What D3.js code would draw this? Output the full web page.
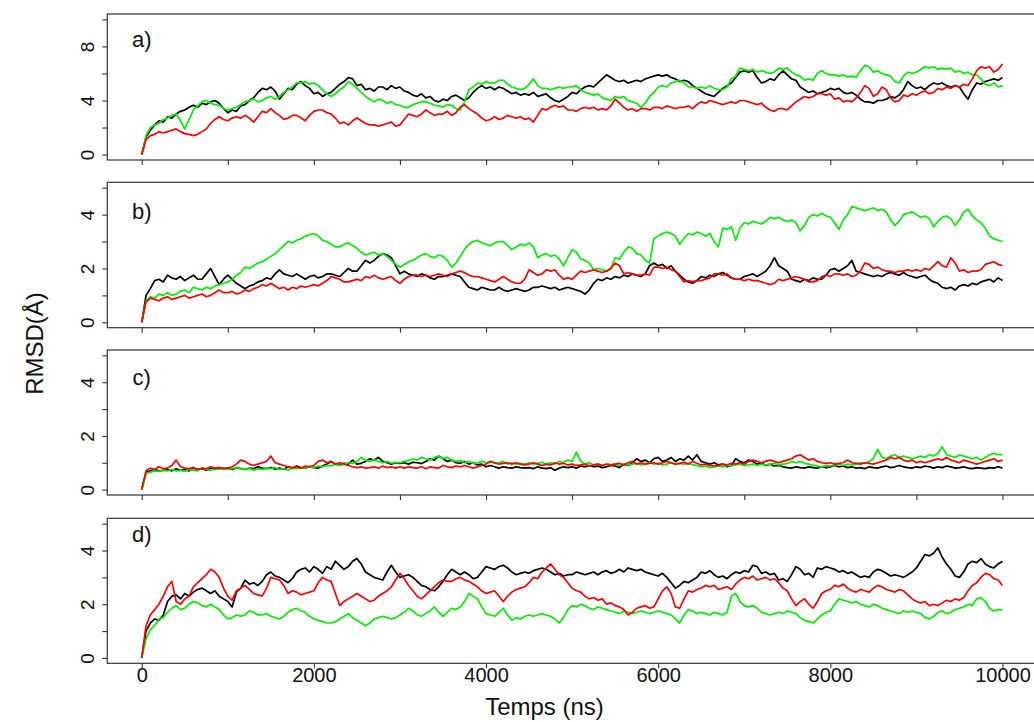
<!DOCTYPE html>
<html>
<head>
<meta charset="utf-8">
<script src="https://cdn.jsdelivr.net/npm/d3@7"></script>
<style>
  html, body { margin: 0; padding: 0; background: #fff; }
  svg { display: block; }
  text { font-family: "Liberation Sans", Arial, Helvetica, sans-serif; fill: #111; }
</style>
</head>
<body>
<svg id="chart" width="1034" height="722"></svg>
<script>
// ---------------- DATA (RMSD in Å, sampled every 50 ns from 0 to 10000 ns) ----------------
const timeStep = 50;
const panelNames = ["a)", "b)", "c)", "d)"];
const seriesNames = ["black", "green", "red"];
const xTicksTop = [0,1000,2000,3000,4000,5000,6000,7000,8000,9000,10000];
const xTicksBottom = [0,2000,4000,6000,8000,10000];
const yTicksA = [0,2,4,6,8,10];
const yLabelsA = [0,4,8];
const yTicksBCD = [0,1,2,3,4,5];
const yLabelsBCD = [0,2,4];

const aBlack = [
0,1.3,1.8,2.2,2.5,2.4,2.8,2.7,3.0,3.2,
3.3,3.5,3.65,3.5,3.8,3.7,3.9,4.0,3.8,3.4,
3.1,3.3,3.2,3.6,3.7,4.0,4.2,4.6,4.9,4.8,
5.0,4.7,4.1,4.5,4.9,4.8,5.2,5.4,5.1,4.9,
4.5,4.6,4.3,4.5,4.6,4.9,5.2,5.4,5.7,5.6,
5.1,5.2,4.8,4.9,4.7,5.0,5.0,4.8,5.1,4.9,
5.0,4.7,4.6,4.4,4.3,4.5,4.2,4.3,4.0,3.9,
4.1,4.0,4.3,4.4,4.2,4.0,4.2,4.6,4.9,5.1,
4.9,5.0,4.8,5.0,4.9,4.7,4.5,4.6,4.4,4.5,
4.4,4.6,4.3,4.4,4.5,4.2,4.0,3.9,4.1,4.3,
4.6,4.5,4.8,5.0,5.1,5.0,5.3,5.6,5.9,5.7,
5.5,5.4,5.5,5.3,5.4,5.5,5.4,5.6,5.7,5.8,
5.9,5.8,5.9,5.7,5.6,5.4,5.5,5.4,5.1,4.9,
4.7,4.5,4.4,4.3,4.6,4.9,5.1,5.3,5.7,6.1,
6.2,6.1,6.2,5.7,5.3,5.4,5.6,5.5,5.9,6.2,
5.9,5.6,5.5,5.0,4.8,4.6,4.7,4.5,4.6,4.7,
4.9,4.8,4.9,4.6,4.5,4.6,4.4,4.1,3.9,3.9,
3.8,4.0,4.0,4.1,4.3,4.2,4.4,4.8,5.4,5.1,
4.9,5.0,4.8,5.1,5.3,5.2,5.3,5.1,5.0,5.1,
5.0,4.5,4.1,4.8,5.3,5.2,5.4,5.5,5.6,5.5,
5.7];
const aGreen = [
0,1.4,2.0,2.2,2.3,2.6,2.7,2.9,3.0,2.5,
1.9,2.6,3.3,3.6,3.9,4.0,3.8,3.7,3.65,3.4,
3.3,3.4,3.5,3.7,3.9,4.0,4.1,3.9,4.0,4.2,
4.3,4.1,4.3,4.6,4.8,5.0,5.3,5.3,5.4,5.2,
5.3,5.1,4.8,4.5,4.3,4.5,4.8,5.0,5.4,5.2,
4.9,4.6,4.3,4.1,3.9,4.1,4.0,3.8,3.9,3.7,
3.65,3.5,3.5,3.7,3.8,3.9,3.9,3.8,3.65,3.6,
3.5,3.7,3.65,3.4,3.3,3.9,4.8,5.0,5.3,5.2,
5.4,5.3,5.3,5.5,5.5,5.2,5.0,4.9,4.8,4.9,
5.2,5.6,5.1,4.9,4.9,4.8,4.9,5.0,4.9,5.0,
5.0,5.1,4.8,4.6,4.5,4.4,4.5,4.2,4.1,4.0,
4.3,4.2,4.3,4.0,3.9,3.8,3.5,3.8,4.3,4.6,
5.0,5.1,5.0,5.3,5.4,5.5,5.3,5.0,5.0,4.9,
5.0,4.9,5.1,4.9,4.8,4.8,5.0,5.6,5.8,6.4,
6.3,6.2,6.3,6.1,6.2,6.1,6.0,6.1,6.4,6.3,
6.4,6.1,5.9,5.8,5.5,5.6,5.5,6.0,6.2,6.0,
5.9,5.9,5.8,5.9,5.75,5.8,5.7,6.2,6.6,6.5,
6.1,6.2,6.0,5.9,5.8,5.4,5.3,5.8,6.1,6.0,
6.1,6.3,6.5,6.4,6.5,6.3,6.4,6.3,6.4,6.1,
6.2,6.0,6.1,5.9,5.9,5.6,5.2,5.1,5.3,5.0,
5.1];
const aRed = [
0,1.1,1.4,1.5,1.7,1.6,1.7,1.8,1.9,1.7,
1.55,1.5,1.4,1.5,1.7,1.9,2.3,2.6,2.8,2.6,
2.5,2.7,2.8,2.7,2.9,2.7,2.4,2.8,3.2,3.1,
3.4,3.1,2.9,2.6,2.7,2.9,2.9,2.7,2.5,2.9,
3.2,3.3,3.3,3.1,3.0,2.7,2.3,2.4,2.2,2.5,
2.7,2.5,2.3,2.2,2.2,2.1,2.2,2.3,2.4,2.1,
2.2,2.6,3.0,2.9,2.8,3.0,3.3,3.1,2.9,3.0,
3.0,3.2,2.9,3.1,3.5,3.7,3.4,3.2,3.0,2.7,
2.5,2.6,2.8,2.6,2.7,2.9,2.8,2.7,2.8,2.6,
2.7,2.4,2.9,3.4,3.3,3.5,3.65,3.5,3.6,3.3,
3.3,3.2,3.4,3.5,3.4,3.5,3.3,3.4,3.3,3.6,
4.1,3.8,3.5,3.3,3.4,3.2,3.4,3.4,3.3,3.5,
3.5,3.4,3.6,3.5,3.4,3.5,3.5,3.6,3.4,3.7,
3.9,3.8,4.0,3.9,3.8,3.7,3.8,3.9,3.8,4.0,
4.0,3.9,3.8,3.7,3.8,3.5,3.3,3.2,3.4,3.4,
3.3,3.6,3.9,4.1,4.3,4.2,4.3,4.5,4.5,4.4,
4.5,4.1,4.2,3.9,4.0,3.9,4.2,4.6,5.1,4.9,
4.3,4.5,5.0,4.8,4.2,3.9,4.0,4.4,4.3,4.5,
4.4,4.6,4.7,4.5,4.6,4.9,4.8,5.0,4.9,5.1,
5.0,5.2,5.1,5.6,6.2,6.5,6.4,6.5,6.1,6.3,
6.7];

const bBlack = [
0,1.0,1.25,1.55,1.6,1.5,1.75,1.65,1.6,1.7,
1.55,1.65,1.75,1.6,1.6,1.8,2.0,1.7,1.4,1.6,
1.75,1.6,1.45,1.35,1.25,1.35,1.4,1.5,1.55,1.65,
1.6,1.8,1.95,1.8,1.75,1.7,1.8,1.7,1.6,1.7,
1.75,1.65,1.7,1.8,1.8,1.75,1.7,1.85,2.0,1.9,
1.9,2.1,2.3,2.2,2.3,2.45,2.55,2.5,2.4,2.1,
1.8,1.9,1.8,1.75,1.7,1.8,1.75,1.65,1.6,1.7,
1.7,1.75,1.8,1.75,1.7,1.5,1.3,1.25,1.2,1.3,
1.25,1.2,1.2,1.3,1.2,1.15,1.2,1.25,1.2,1.15,
1.2,1.3,1.3,1.35,1.3,1.25,1.3,1.2,1.25,1.3,
1.25,1.2,1.15,1.05,1.2,1.45,1.6,1.55,1.65,1.6,
1.7,1.65,1.75,1.7,1.8,1.75,1.7,1.8,2.1,2.2,
2.1,2.15,2.0,2.1,1.9,1.75,1.6,1.5,1.45,1.55,
1.7,1.65,1.75,1.7,1.8,1.85,1.75,1.65,1.6,1.6,
1.7,1.75,1.8,1.7,1.8,1.9,2.1,2.4,2.1,2.0,
1.9,1.6,1.55,1.5,1.6,1.55,1.65,1.6,1.6,1.75,
1.95,2.0,1.9,2.0,2.1,2.3,1.9,1.85,1.8,1.75,
1.7,1.75,1.7,1.8,1.85,1.8,1.75,1.85,1.75,1.7,
1.65,1.7,1.75,1.6,1.5,1.45,1.3,1.25,1.3,1.2,
1.35,1.4,1.35,1.45,1.4,1.5,1.55,1.6,1.5,1.65,
1.55];
const bGreen = [
0,0.8,0.95,0.9,1.05,1.0,1.1,1.0,1.05,1.15,
1.2,1.1,1.3,1.25,1.2,1.3,1.25,1.35,1.4,1.45,
1.5,1.6,1.75,1.85,2.05,2.0,2.1,2.2,2.25,2.35,
2.45,2.55,2.7,2.85,3.0,2.95,3.05,3.1,3.2,3.25,
3.3,3.2,3.05,3.0,2.9,2.8,2.8,2.9,2.95,2.85,
2.75,2.6,2.5,2.55,2.6,2.5,2.55,2.45,2.3,2.15,
2.05,2.15,2.25,2.3,2.4,2.5,2.55,2.45,2.4,2.5,
2.45,2.3,2.05,2.2,2.45,2.7,2.9,3.0,3.05,2.95,
2.9,2.85,2.95,3.0,3.0,2.85,2.7,2.8,2.9,2.85,
2.95,2.8,2.4,2.5,2.55,2.45,2.5,2.35,2.1,2.4,
2.7,2.6,2.35,2.3,2.2,1.95,2.0,1.95,1.9,2.0,
2.4,2.35,2.6,2.8,2.75,2.55,2.5,2.3,2.2,3.1,
3.2,3.3,3.35,3.3,3.2,2.9,3.1,3.3,3.25,3.35,
3.3,3.2,3.3,3.0,2.8,3.5,3.45,3.55,3.05,3.5,
3.7,3.65,3.75,3.7,3.65,3.75,3.9,3.85,3.9,3.8,
3.75,3.8,3.7,3.4,3.6,3.9,4.0,3.95,4.05,3.95,
3.9,3.7,3.45,3.8,4.0,4.3,4.25,4.2,4.15,4.2,
4.25,4.15,4.2,4.1,3.8,3.6,3.75,4.0,4.05,4.1,
4.0,3.9,3.95,3.85,3.55,3.75,3.9,3.95,3.85,3.6,
3.8,4.1,4.2,3.95,3.8,3.7,3.5,3.2,3.1,3.05,
3.0];
const bRed = [
0,0.75,0.9,0.85,0.8,0.9,0.95,0.85,0.9,0.95,
1.0,0.9,0.95,1.0,1.05,0.95,1.0,1.1,1.2,1.1,
1.1,1.15,1.05,1.1,1.2,1.15,1.25,1.3,1.4,1.35,
1.45,1.35,1.25,1.3,1.2,1.3,1.25,1.35,1.3,1.35,
1.4,1.35,1.45,1.55,1.7,1.65,1.6,1.5,1.5,1.55,
1.6,1.55,1.7,1.65,1.75,1.65,1.6,1.65,1.7,1.55,
1.45,1.6,1.7,1.75,1.75,1.7,1.75,1.7,1.75,1.8,
1.75,1.7,1.8,1.85,1.9,1.85,1.75,1.7,1.7,1.65,
1.6,1.55,1.5,1.6,1.7,1.6,1.5,1.45,1.45,1.6,
1.95,1.85,1.75,1.8,1.95,1.9,1.95,1.75,1.6,1.65,
1.6,1.75,1.9,1.85,1.9,1.95,1.9,1.85,1.9,2.0,
2.2,2.1,1.8,1.85,1.8,1.75,1.75,1.8,1.75,2.05,
2.05,2.0,2.05,1.95,1.9,1.7,1.5,1.55,1.5,1.55,
1.55,1.6,1.65,1.8,1.8,1.75,1.8,1.65,1.6,1.6,
1.55,1.6,1.55,1.55,1.5,1.45,1.4,1.45,1.6,1.55,
1.6,1.65,1.7,1.65,1.6,1.5,1.5,1.55,1.7,1.75,
1.7,1.8,1.8,1.75,1.8,1.7,1.75,1.9,2.2,2.15,
2.0,2.05,1.95,1.9,1.9,1.85,1.9,1.9,1.95,1.9,
1.95,1.9,2.0,1.95,2.1,2.25,2.1,2.05,2.4,2.2,
1.9,1.95,1.85,1.9,1.9,1.95,2.15,2.2,2.25,2.15,
2.1];

const cBlack = [
0,0.65,0.7,0.75,0.7,0.72,0.75,0.7,0.78,0.72,
0.75,0.7,0.8,0.75,0.78,0.72,0.8,0.75,0.82,0.78,
0.8,0.75,0.82,0.78,0.75,0.8,0.78,0.85,0.8,0.78,
0.82,0.76,0.8,0.75,0.85,0.8,0.88,0.82,0.8,0.86,
0.82,0.8,0.88,0.95,1.05,0.95,0.92,0.98,0.95,1.1,
0.95,0.98,1.05,1.15,1.1,1.2,1.05,1.0,0.95,1.0,
0.98,1.0,0.95,1.02,1.0,0.97,1.05,1.15,1.1,1.25,
1.15,1.05,1.1,1.0,0.98,1.05,0.95,1.0,0.92,0.95,
0.85,0.9,0.85,0.8,0.85,0.82,0.8,0.85,0.82,0.8,
0.82,0.78,0.85,0.8,0.78,0.82,0.72,0.8,0.85,0.82,
0.85,0.8,0.88,0.85,0.9,0.85,0.88,0.82,0.85,0.9,
0.88,0.82,0.95,0.9,1.0,1.15,1.05,1.1,1.0,1.15,
1.2,1.05,1.1,1.2,1.05,1.15,1.1,1.25,1.1,1.3,
1.05,1.0,0.95,1.0,0.92,0.95,0.85,0.9,1.15,1.05,
1.0,1.1,1.05,0.95,1.0,0.9,0.95,0.88,0.9,0.85,
0.82,0.8,0.85,0.82,0.8,0.85,0.82,0.8,0.86,0.82,
0.85,0.9,0.85,0.88,0.82,0.85,0.8,0.82,0.78,0.85,
0.82,0.8,0.85,0.88,0.82,0.85,0.9,0.85,0.82,0.8,
0.85,0.82,0.88,0.85,0.8,0.85,0.82,0.88,0.85,0.8,
0.82,0.85,0.8,0.78,0.82,0.8,0.78,0.82,0.8,0.85,
0.8];
const cGreen = [
0,0.6,0.65,0.7,0.68,0.72,0.7,0.75,0.7,0.72,
0.68,0.75,0.72,0.7,0.8,0.75,0.72,0.78,0.75,0.8,
0.75,0.78,0.82,0.78,0.75,0.8,0.72,0.78,0.75,0.8,
0.78,0.82,0.75,0.78,0.72,0.8,0.78,0.82,0.8,0.85,
0.82,0.88,0.85,0.9,0.88,0.95,0.9,0.95,1.0,0.98,
1.05,1.2,1.1,1.05,1.12,1.05,1.0,1.05,0.98,1.02,
1.0,1.05,1.08,1.15,1.1,1.2,1.15,1.1,1.2,1.25,
1.15,1.2,1.1,1.05,1.08,1.0,1.05,0.98,1.0,1.05,
1.0,1.05,0.98,1.0,1.05,0.95,1.0,0.95,0.98,0.95,
1.0,0.95,0.98,1.02,0.95,1.0,0.95,1.05,1.0,1.1,
1.05,1.4,1.05,0.95,1.0,0.92,0.95,0.9,0.95,0.92,
0.95,0.9,0.95,0.92,0.95,0.98,0.92,0.95,1.0,0.95,
0.98,0.92,0.95,1.0,0.95,0.98,0.95,0.98,0.92,0.9,
0.85,0.88,0.82,0.85,0.88,0.85,0.9,0.88,0.92,0.95,
0.9,0.92,0.95,0.9,0.95,0.92,0.95,0.98,0.92,0.95,
0.98,1.05,1.0,1.05,0.98,0.95,0.9,0.88,0.85,0.9,
0.88,0.92,0.95,0.9,0.95,0.92,0.95,1.0,0.98,1.05,
1.15,1.5,1.2,1.15,1.25,1.3,1.2,1.25,1.2,1.15,
1.2,1.25,1.2,1.3,1.25,1.35,1.6,1.3,1.25,1.2,
1.3,1.25,1.2,1.15,1.2,1.1,1.2,1.3,1.35,1.3,
1.3];
const cRed = [
0,0.7,0.8,0.75,0.85,0.78,0.8,0.9,1.1,0.85,
0.8,0.78,0.82,0.75,0.8,0.78,0.85,0.8,0.82,0.78,
0.8,0.85,0.95,1.1,1.05,0.95,0.9,0.95,1.0,1.05,
1.25,1.0,0.95,0.9,0.85,0.82,0.85,0.8,0.88,0.85,
0.9,1.05,1.1,1.0,1.05,0.95,1.0,0.95,0.9,0.85,
0.82,0.85,0.8,0.82,0.85,0.8,0.88,0.82,0.85,0.8,
0.85,0.8,0.85,0.82,0.8,0.85,0.78,0.85,0.82,0.8,
0.9,0.85,0.82,0.88,0.85,0.9,0.85,0.8,0.85,0.9,
0.95,1.05,1.0,0.95,0.98,1.0,0.95,1.0,0.95,0.92,
0.95,1.0,0.95,0.9,0.95,0.92,1.0,0.95,0.98,0.92,
0.95,0.9,0.92,0.95,0.88,0.92,0.95,0.9,0.95,0.92,
0.95,0.98,0.92,1.0,1.05,0.95,1.0,0.95,0.98,1.0,
0.95,1.0,1.05,1.0,0.95,0.98,1.02,0.95,1.05,0.98,
0.92,0.95,0.9,0.88,0.9,0.95,0.92,0.98,0.95,1.0,
0.95,1.05,1.1,1.05,1.0,1.05,1.1,1.05,1.0,1.05,
1.1,1.15,1.25,1.3,1.2,1.1,1.15,1.05,1.0,0.98,
1.0,0.95,0.98,1.0,1.1,1.0,0.98,0.95,1.0,0.98,
0.95,1.0,1.05,1.1,1.2,1.15,1.2,1.1,1.05,1.1,
1.0,1.05,1.0,1.05,1.1,1.15,1.1,1.2,1.1,1.05,
1.0,1.1,1.05,1.0,0.95,1.0,1.05,1.1,1.15,1.05,
1.1];

const dBlack = [
0,1.0,1.3,1.45,1.4,1.6,2.1,2.3,2.35,2.2,
2.4,2.3,2.45,2.55,2.6,2.5,2.4,2.5,2.3,2.2,
2.1,1.9,2.45,2.6,2.9,2.75,2.8,2.7,2.85,3.1,
3.2,3.05,3.0,2.9,2.8,2.95,3.2,3.3,3.35,3.2,
3.4,3.3,3.15,3.4,3.3,3.6,3.45,3.3,3.4,3.6,
3.7,3.5,3.2,3.1,3.0,2.95,2.9,3.2,3.45,3.2,
3.0,3.05,3.1,3.0,2.85,2.7,2.65,2.55,2.5,2.65,
2.85,3.1,3.3,3.2,3.1,3.2,3.1,2.95,3.0,3.2,
3.4,3.35,3.3,3.4,3.45,3.35,3.2,3.1,3.15,3.2,
3.15,3.25,3.3,3.35,3.3,3.2,3.1,3.15,3.05,3.1,
3.1,3.2,3.15,3.1,3.15,3.2,3.1,3.2,3.25,3.15,
3.2,3.3,3.2,3.35,3.3,3.25,3.3,3.2,3.15,3.1,
3.05,3.15,3.0,2.8,2.6,2.7,2.85,2.8,2.9,3.0,
3.2,3.15,3.25,3.1,3.0,3.05,2.95,3.1,3.2,3.15,
3.25,3.2,3.45,3.4,3.15,3.2,3.1,3.15,2.9,2.95,
2.85,3.1,3.4,3.3,3.1,3.15,3.0,3.35,3.3,3.4,
3.35,3.3,3.2,3.25,3.15,3.2,3.1,3.0,3.05,3.0,
3.2,3.3,3.25,3.15,3.05,3.1,3.05,3.0,3.1,3.2,
3.35,3.6,3.85,3.8,3.9,4.1,3.75,3.5,3.3,3.05,
3.0,3.2,3.5,3.6,3.55,3.7,3.5,3.4,3.35,3.5,
3.6];
const dGreen = [
0,0.7,1.05,1.2,1.45,1.5,1.7,1.85,1.95,1.8,
1.85,2.0,2.1,2.05,1.95,1.9,2.0,1.9,1.8,1.6,
1.45,1.5,1.6,1.55,1.6,1.75,1.7,1.6,1.6,1.65,
1.55,1.5,1.45,1.55,1.7,1.8,1.85,1.75,1.7,1.55,
1.45,1.4,1.35,1.3,1.3,1.35,1.45,1.55,1.65,1.5,
1.4,1.3,1.2,1.3,1.45,1.5,1.55,1.5,1.45,1.5,
1.6,1.7,1.85,1.75,1.6,1.55,1.65,1.75,1.9,1.7,
1.55,1.7,1.85,1.8,1.9,2.1,2.4,2.3,2.2,1.9,
1.65,1.6,1.55,1.7,1.85,1.6,1.4,1.5,1.45,1.55,
1.6,1.55,1.6,1.65,1.6,1.55,1.45,1.3,1.5,1.8,
1.95,1.9,2.0,1.95,1.85,1.8,1.9,1.85,1.8,1.75,
1.7,1.65,1.75,1.7,1.65,1.7,1.75,1.7,1.65,1.7,
1.75,1.7,1.65,1.6,1.45,1.3,1.6,1.8,1.75,1.65,
1.7,1.65,1.6,1.7,1.65,1.6,1.7,2.3,2.4,2.1,
1.95,1.9,1.95,1.85,1.7,1.65,1.6,1.65,1.7,1.65,
1.75,1.7,1.65,1.5,1.4,1.35,1.3,1.45,1.6,1.7,
1.75,2.0,2.2,2.15,2.1,2.05,2.1,2.0,1.95,1.9,
2.0,1.95,1.85,1.8,1.75,1.7,1.65,1.75,1.7,1.75,
1.7,1.65,1.5,1.45,1.55,1.7,1.75,1.65,1.7,1.8,
1.85,1.9,2.0,1.95,2.2,2.25,2.1,1.85,1.75,1.8,
1.8];
const dRed = [
0,1.2,1.6,1.8,2.0,2.3,2.65,2.85,2.1,2.0,
2.2,2.3,2.65,2.8,2.95,3.1,3.3,3.2,3.0,2.6,
2.3,2.15,2.5,2.6,2.7,2.55,2.4,2.35,2.3,2.6,
3.0,2.95,2.9,2.7,2.4,2.5,2.45,2.35,2.4,2.45,
2.5,2.8,3.0,2.9,2.85,2.4,1.95,2.1,2.2,2.3,
2.4,2.3,2.2,2.1,2.15,2.3,2.4,2.5,2.65,2.9,
3.15,2.95,2.7,2.5,2.3,2.2,2.35,2.5,2.65,2.8,
2.9,2.85,2.85,2.95,3.0,2.9,2.85,2.75,2.65,2.5,
2.4,2.45,2.5,2.3,2.1,2.3,2.45,2.55,2.6,2.65,
2.8,3.0,2.95,3.2,3.35,3.5,3.3,3.1,3.0,2.8,
2.6,2.5,2.45,2.3,2.2,2.25,2.15,2.2,2.0,2.05,
1.95,1.9,1.8,1.6,1.7,1.85,1.9,1.95,1.85,1.9,
2.2,2.5,2.65,2.4,1.9,1.85,2.2,2.5,2.45,2.55,
2.6,2.7,2.65,2.7,2.55,2.6,2.65,2.55,2.75,2.9,
3.0,2.95,3.05,2.9,2.95,3.0,2.9,2.95,2.8,2.6,
2.5,2.2,1.95,2.1,2.2,2.0,1.85,2.1,2.4,2.5,
2.55,2.7,2.65,2.75,2.6,2.5,2.45,2.55,2.5,2.45,
2.6,2.7,2.65,2.55,2.5,2.45,2.55,2.5,2.35,2.2,
2.1,2.05,2.1,1.95,2.0,1.95,2.05,2.15,2.1,2.2,
2.15,2.25,2.5,2.7,2.8,3.0,3.15,3.1,2.95,2.9,
2.7];

const panelSeries = [
  [aBlack, aGreen, aRed],
  [bBlack, bGreen, bRed],
  [cBlack, cGreen, cRed],
  [dBlack, dGreen, dRed]
];

// ---------------- LAYOUT / STYLE ----------------
const colors = { black: "#000000", green: "#00f000", red: "#ff0000" };
const panelLayout = [
  { top: 14,    bottom: 160,   ymax: 10, ticks: yTicksA,   labels: yLabelsA,   tagY: 7.95 },
  { top: 182.3, bottom: 327.7, ymax: 5,  ticks: yTicksBCD, labels: yLabelsBCD, tagY: 3.84 },
  { top: 350,   bottom: 495,   ymax: 5,  ticks: yTicksBCD, labels: yLabelsBCD, tagY: 3.9 },
  { top: 518.3, bottom: 663.3, ymax: 5,  ticks: yTicksBCD, labels: yLabelsBCD, tagY: 4.31 }
];
const xLeft = 107.3, xRight = 1036.9;

const svg = d3.select("#chart");
const x = d3.scaleLinear().domain([-400, 10400]).range([xLeft, xRight]);

panelLayout.forEach((p, pi) => {
  const y = d3.scaleLinear().domain([-0.04 * p.ymax, 1.04 * p.ymax]).range([p.bottom, p.top]);
  const g = svg.append("g");

  // series lines
  const line = d3.line()
    .x((d, i) => x(i * timeStep))
    .y(d => y(d));
  panelSeries[pi].forEach((vals, si) => {
    g.append("path")
      .datum(vals)
      .attr("fill", "none")
      .attr("stroke", colors[seriesNames[si]])
      .attr("stroke-width", 1.7)
      .attr("stroke-linejoin", "round")
      .attr("d", line);
  });

  // box
  g.append("rect")
    .attr("x", xLeft).attr("y", p.top)
    .attr("width", xRight - xLeft).attr("height", p.bottom - p.top)
    .attr("fill", "none").attr("stroke", "#333").attr("stroke-width", 1.2);

  // y axis
  const yAxis = d3.axisLeft(y)
    .tickValues(p.ticks)
    .tickSize(5)
    .tickFormat(d => p.labels.includes(d) ? String(d) : "");
  const ya = g.append("g").attr("transform", `translate(${xLeft},0)`).call(yAxis);
  ya.select(".domain").remove();
  ya.selectAll(".tick line").attr("stroke", "#333").attr("stroke-width", 1.1);
  ya.selectAll(".tick text")
    .attr("transform", "rotate(-90)")
    .attr("x", 0).attr("y", -13.5).attr("dy", 0)
    .attr("text-anchor", "middle")
    .style("font-family", "'Liberation Sans', Arial, sans-serif")
    .style("font-size", "19px").style("fill", "#111");

  // x axis
  const isBottom = pi === panelLayout.length - 1;
  const xAxis = d3.axisBottom(x)
    .tickValues(isBottom ? xTicksBottom : xTicksTop)
    .tickSize(5)
    .tickFormat(d => isBottom ? String(d) : "");
  const xa = g.append("g").attr("transform", `translate(0,${p.bottom})`).call(xAxis);
  xa.select(".domain").remove();
  xa.selectAll(".tick line").attr("stroke", "#333").attr("stroke-width", 1.1);
  xa.selectAll(".tick text")
    .attr("y", 19).attr("dy", 0)
    .style("font-family", "'Liberation Sans', Arial, sans-serif")
    .style("font-size", "20px").style("fill", "#111");

  // panel tag
  g.append("text")
    .attr("x", x(0)).attr("y", y(p.tagY))
    .attr("text-anchor", "middle")
    .style("font-size", "22px")
    .text(panelNames[pi]);
});

// axis titles
svg.append("text")
  .attr("transform", "translate(43,343.5) rotate(-90)")
  .attr("text-anchor", "middle")
  .style("font-size", "24px")
  .text("RMSD(Å)");

svg.append("text")
  .attr("x", 544.5).attr("y", 715)
  .attr("text-anchor", "middle")
  .style("font-size", "24px")
  .text("Temps (ns)");
</script>
</body>
</html>
